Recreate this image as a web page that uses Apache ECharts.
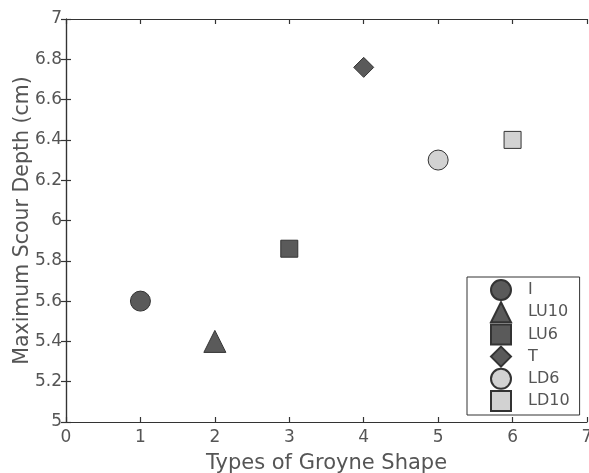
<!DOCTYPE html>
<html>
<head>
<meta charset="utf-8">
<script src="https://cdn.jsdelivr.net/npm/echarts@6/dist/echarts.min.js"></script>
<style>
html,body{margin:0;padding:0;background:#fff;}
#c{width:589px;height:473px;}
</style>
</head>
<body>
<div id="c"></div>
<script>
const categories = ['I', 'LU10', 'LU6', 'T', 'LD6', 'LD10'];
const shapeTypes = [1, 2, 3, 4, 5, 6];
const scourDepth = [5.6, 5.4, 5.86, 6.76, 6.3, 6.4];
const symbols = ['circle', 'triangle', 'rect', 'diamond', 'circle', 'rect'];
const symbolSizes = [20, 22, 17, 20, 20, 17];
const fills = ['#5a5a5a', '#5a5a5a', '#5a5a5a', '#5a5a5a', '#d2d2d2', '#d2d2d2'];

const chart = echarts.init(document.getElementById('c'));
const font = 'DejaVu Sans';
const lineStyle = { color: '#333', width: 1.2 };

const series = categories.map((name, i) => ({
  name: name,
  type: 'scatter',
  symbol: symbols[i],
  symbolSize: symbolSizes[i],
  itemStyle: { color: fills[i], borderColor: '#333', borderWidth: 1, opacity: 1 },
  data: [[shapeTypes[i], scourDepth[i]]],
  xAxisIndex: 0, yAxisIndex: 0
}));

chart.setOption({
  animation: false,
  backgroundColor: '#fff',
  grid: { left: 66, right: 2, top: 19, bottom: 51, containLabel: false, outerBoundsMode: 'none' },
  legend: {
    orient: 'vertical',
    left: 467, top: 277,
    padding: [2, 10, 3, 23],
    itemGap: 0.2,
    itemWidth: 20, itemHeight: 20,
    borderColor: '#333', borderWidth: 1,
    backgroundColor: '#fff',
    textStyle: { fontFamily: font, fontSize: 16, lineHeight: 16, color: '#555', padding: [0, 0, 0, 12] },
    data: categories
  },
  xAxis: [{
    type: 'value', min: 0, max: 7, interval: 1,
    name: 'Types of Groyne Shape', nameLocation: 'middle', nameGap: 31,
    nameMoveOverlap: false,
    nameTextStyle: { fontFamily: font, fontSize: 21, color: '#555' },
    axisLine: { lineStyle: lineStyle },
    axisTick: { inside: true, length: 5, lineStyle: lineStyle },
    axisLabel: { fontFamily: font, fontSize: 17, color: '#555', margin: 7 },
    splitLine: { show: false }
  }, {
    type: 'value', min: 0, max: 7, interval: 1, position: 'top',
    axisLine: { lineStyle: lineStyle },
    axisTick: { inside: true, length: 5, lineStyle: lineStyle },
    axisLabel: { show: false },
    splitLine: { show: false }
  }],
  yAxis: [{
    type: 'value', min: 5, max: 7, interval: 0.2,
    name: 'Maximum Scour Depth (cm)', nameLocation: 'middle', nameGap: 33,
    nameMoveOverlap: false,
    nameTextStyle: { fontFamily: font, fontSize: 20.5, color: '#555' },
    axisLine: { lineStyle: lineStyle },
    axisTick: { inside: true, length: 5, lineStyle: lineStyle },
    axisLabel: { fontFamily: font, fontSize: 17, color: '#555', margin: 4,
      formatter: v => String(parseFloat(v.toFixed(1))) },
    splitLine: { show: false }
  }, {
    type: 'value', min: 5, max: 7, interval: 0.2, position: 'right',
    axisLine: { lineStyle: lineStyle },
    axisTick: { inside: true, length: 5, lineStyle: lineStyle },
    axisLabel: { show: false },
    splitLine: { show: false }
  }],
  series: series
});
</script>
</body>
</html>
